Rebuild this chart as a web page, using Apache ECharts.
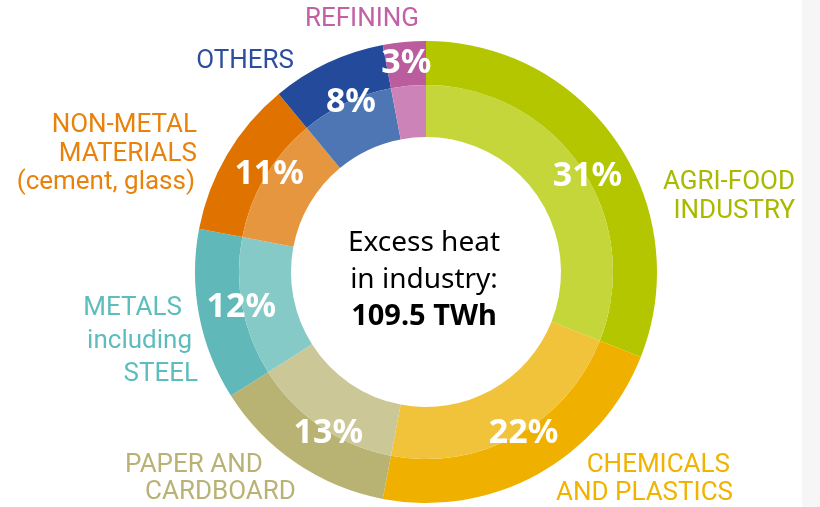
<!DOCTYPE html>
<html><head><meta charset="utf-8">
<script src="https://cdn.jsdelivr.net/npm/echarts@6/dist/echarts.min.js"></script>
<style>html,body{margin:0;padding:0;background:#fff}#c{width:820px;height:507px}</style>
</head><body><div id="c"></div>
<script>
// ---- data ----
const categories = ['AGRI-FOOD INDUSTRY','CHEMICALS AND PLASTICS','PAPER AND CARDBOARD','METALS including STEEL','NON-METAL MATERIALS (cement, glass)','OTHERS','REFINING'];
const shares = [31, 22, 13, 12, 11, 8, 3];
const labelLines = [
  ['AGRI-FOOD','INDUSTRY'],
  ['CHEMICALS','AND PLASTICS'],
  ['PAPER AND','CARDBOARD'],
  ['METALS','including','STEEL'],
  ['NON-METAL','MATERIALS','(cement, glass)'],
  ['OTHERS'],
  ['REFINING']
];
const centerLines = ['Excess heat', 'in industry:'];
const totalText = '109.5 TWh';

// ---- styles ----
const darkColors  = ['#b3c600','#efb000','#b9b373','#60b8b8','#e07200','#234a9b','#bb5c9e'];
const lightColors = ['#c5d63a','#f1c33b','#cbc796','#86cac8','#e5963f','#4e76b4','#cc84b8'];
const textColors  = ['#a9b900','#f0b300','#bab274','#5dbdbd','#e8820c','#2d4d9e','#c35fa5'];
const labelPlace = [
  {x:795, y:197, align:'right',  lh:29, pad:[0,0]},
  {x:733, y:479, align:'right',  lh:28, pad:[3,0]},
  {x:125, y:479, align:'left',   lh:27, pad:[0,20]},
  {x:198, y:341, align:'right',  lh:33, pad:[16,6,0]},
  {x:197, y:154, align:'right',  lh:28.5, pad:[0,0,2]},
  {x:294, y:61,  align:'right',  lh:28, pad:[0]},
  {x:362, y:19,  align:'center', lh:28, pad:[0]}
];
const pctShift = [[6,10],[7,-3],[8,6],[0,0],[5,-2],[5,0],[-2,-22]];
const CX = 426, CY = 272;
const labelFont = '"Roboto", sans-serif';
const labelSize = 26;

const chart = echarts.init(document.getElementById('c'), null, {renderer:'canvas'});

function catLabel(i) {
  const p = labelPlace[i];
  const rich = {};
  const parts = labelLines[i].map((t, k) => {
    const pad = p.pad[k] || 0;
    rich['l' + k] = {
      color: textColors[i], fontSize: labelSize, fontFamily: labelFont, lineHeight: p.lh,
      padding: p.align === 'left' ? [0,0,0,pad] : [0,pad,0,0]
    };
    return '{l' + k + '|' + t + '}';
  });
  return { show: true, position: 'outside', formatter: parts.join('\n'), rich: rich, align: p.align };
}

const outerData = categories.map((n, i) => ({
  name: n, value: shares[i], itemStyle: {color: darkColors[i]}, label: catLabel(i)
}));
const innerData = categories.map((n, i) => ({
  name: n, value: shares[i], itemStyle: {color: lightColors[i]}
}));
const pctData = categories.map((n, i) => ({ name: n, value: shares[i] }));

chart.setOption({
  animation: false,
  backgroundColor: '#ffffff',
  series: [
    {
      type: 'pie', center: [CX, CY], radius: [187, 231], startAngle: 90, clockwise: true,
      silent: true, avoidLabelOverlap: false,
      itemStyle: {borderWidth: 0},
      labelLine: {show: false},
      labelLayout: function (params) {
        const p = labelPlace[params.dataIndex];
        return {x: p.x, y: p.y, align: p.align, verticalAlign: 'middle'};
      },
      data: outerData
    },
    {
      type: 'pie', center: [CX, CY], radius: [135, 187], startAngle: 90, clockwise: true,
      silent: true, label: {show: false}, labelLine: {show: false},
      itemStyle: {borderWidth: 0},
      data: innerData
    },
    {
      type: 'pie', center: [CX, CY], radius: [160, 210], startAngle: 90, clockwise: true,
      silent: true, z: 5,
      itemStyle: {color: 'rgba(0,0,0,0)', borderWidth: 0},
      label: {
        show: true, position: 'inside', formatter: '{c}%', color: '#ffffff',
        fontSize: 34, fontWeight: 'bold', fontFamily: '"Noto Sans", "Open Sans", sans-serif'
      },
      labelLine: {show: false},
      labelLayout: function (params) {
        const s = pctShift[params.dataIndex];
        return {dx: s[0], dy: s[1]};
      },
      data: pctData
    }
  ],
  graphic: [
    {
      type: 'rect', shape: {x: 802, y: 0, width: 18, height: 507},
      style: {fill: '#f6f6f6'}, silent: true, z: -1
    },
    {
      type: 'text', x: CX - 2, y: CY + 8, silent: true, z: 10,
      style: {
        text: '{a|' + centerLines[0] + '}\n{a|' + centerLines[1] + '}\n{b|' + totalText + '}',
        align: 'center', verticalAlign: 'middle',
        rich: {
          a: {fontSize: 28, lineHeight: 36.5, color: '#111111', fontFamily: '"Noto Sans", "Open Sans", sans-serif'},
          b: {fontSize: 29, lineHeight: 37, color: '#111111', fontWeight: 'bold', fontFamily: '"Noto Sans", "Open Sans", sans-serif'}
        }
      }
    }
  ]
});
</script></body></html>
